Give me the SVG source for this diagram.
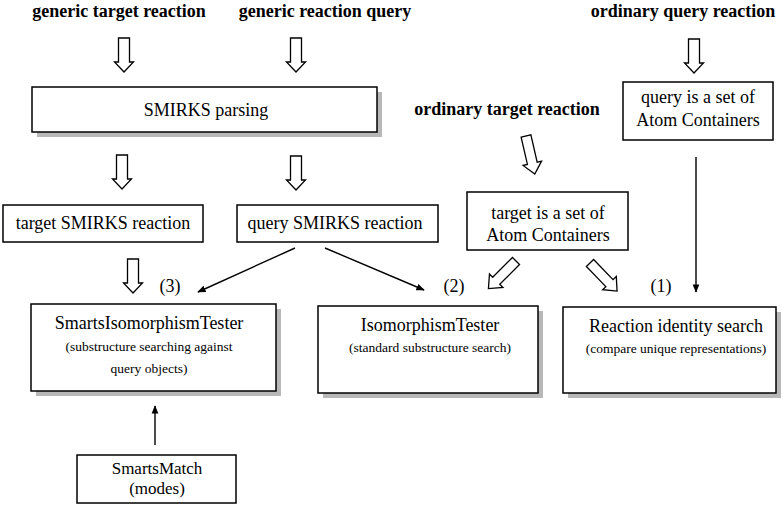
<svg xmlns="http://www.w3.org/2000/svg" width="784" height="505" viewBox="0 0 784 505">
<style>
  .title { font-family: "Liberation Serif", "Times New Roman", "DejaVu Serif", serif; font-weight: bold; font-size: 18px; fill: #000; text-anchor: middle; }
  .t { font-family: "Liberation Serif", "Times New Roman", "DejaVu Serif", serif; font-size: 18px; fill: #000; text-anchor: middle; }
  .m { font-family: "Liberation Serif", "Times New Roman", "DejaVu Serif", serif; font-size: 17px; fill: #000; text-anchor: middle; }
  .s { font-family: "Liberation Serif", "Times New Roman", "DejaVu Serif", serif; font-size: 13.5px; fill: #000; text-anchor: middle; }
  .box { fill: #fff; stroke: #000; stroke-width: 1.5; }
  .shadow { fill: #b8b8b8; stroke: none; }
  .hollow { fill: #fff; stroke: #000; stroke-width: 1.3; stroke-linejoin: miter; }
  .line { stroke: #000; stroke-width: 1.4; fill: none; marker-end: url(#ah); }
</style>
<defs>
  <marker id="ah" viewBox="0 0 10 10" refX="9" refY="5" markerWidth="6" markerHeight="6" orient="auto" markerUnits="strokeWidth">
    <path d="M0,1 L10,5 L0,9 Z" fill="#000"/>
  </marker>
  <path id="harrow" d="M-5.5,0 H5.5 V24 H9.5 L0,34 L-9.5,24 H-5.5 Z"/>
  <path id="darrow" d="M-5,0 H5 V28 H9.5 L0,39 L-9.5,28 H-5 Z"/>
</defs>
<rect width="784" height="505" fill="#fff"/>

<g id="title-generic-target"><text class="title" x="119" y="17">generic target reaction</text></g>
<g id="title-generic-query"><text class="title" x="325" y="17">generic reaction query</text></g>
<g id="title-ordinary-query"><text class="title" x="683" y="17">ordinary query reaction</text></g>
<g id="title-ordinary-target"><text class="title" x="507" y="115">ordinary target reaction</text></g>

<g id="smirks-parsing">
  <rect class="shadow" x="37" y="92" width="345" height="45"/>
  <rect class="box" x="32" y="87" width="345" height="45"/>
  <text class="t" x="206" y="116">SMIRKS parsing</text>
</g>

<g id="query-set">
  <rect class="box" x="623" y="82" width="150" height="58"/>
  <text class="t" x="698" y="103">query is a set of</text>
  <text class="t" x="698" y="126">Atom Containers</text>
</g>

<g id="target-smirks">
  <rect class="box" x="3" y="205" width="200" height="37"/>
  <text class="t" x="103" y="229">target SMIRKS reaction</text>
</g>

<g id="query-smirks">
  <rect class="box" x="237" y="205" width="201" height="37"/>
  <text class="t" x="335" y="229">query SMIRKS reaction</text>
</g>

<g id="target-set">
  <rect class="box" x="467" y="192" width="161" height="58"/>
  <text class="t" x="548" y="219">target is a set of</text>
  <text class="t" x="548" y="241">Atom Containers</text>
</g>

<g id="smarts-iso">
  <rect class="shadow" x="36" y="309" width="245" height="87"/>
  <rect class="box" x="31" y="304" width="245" height="87"/>
  <text class="t" x="149" y="329">SmartsIsomorphismTester</text>
  <text class="s" x="149" y="351">(substructure searching against</text>
  <text class="s" x="149" y="373">query objects)</text>
</g>

<g id="iso-tester">
  <rect class="shadow" x="323" y="311" width="220" height="87"/>
  <rect class="box" x="318" y="306" width="220" height="87"/>
  <text class="t" x="430" y="331">IsomorphismTester</text>
  <text class="s" x="430" y="352">(standard substructure search)</text>
</g>

<g id="reaction-identity">
  <rect class="shadow" x="568" y="312" width="213" height="86"/>
  <rect class="box" x="563" y="307" width="213" height="86"/>
  <text class="t" x="676" y="332">Reaction identity search</text>
  <text class="s" x="676" y="353">(compare unique representations)</text>
</g>

<g id="smarts-match">
  <rect class="box" x="77" y="455" width="159" height="48"/>
  <text class="m" x="157" y="474">SmartsMatch</text>
  <text class="m" x="157" y="494">(modes)</text>
</g>

<g id="labels">
  <text class="t" x="170" y="292">(3)</text>
  <text class="t" x="454" y="292">(2)</text>
  <text class="t" x="661" y="292">(1)</text>
</g>

<g id="connectors">
  <use href="#harrow" class="hollow" transform="translate(124,38)"/>
  <use href="#harrow" class="hollow" transform="translate(296,38)"/>
  <use href="#harrow" class="hollow" transform="translate(694,39)"/>
  <use href="#harrow" class="hollow" transform="translate(122,155)"/>
  <use href="#harrow" class="hollow" transform="translate(296,156)"/>
  <use href="#harrow" class="hollow" transform="translate(133,259)"/>
  <use href="#darrow" class="hollow" transform="translate(526,136) rotate(-13)"/>
  <use href="#darrow" class="hollow" transform="translate(516,261) rotate(45)"/>
  <use href="#darrow" class="hollow" transform="translate(590,263) rotate(-44)"/>
  <line class="line" x1="295" y1="248" x2="198" y2="292"/>
  <line class="line" x1="325" y1="248" x2="424" y2="290"/>
  <line class="line" x1="696" y1="157" x2="696" y2="292"/>
  <line class="line" x1="155" y1="445" x2="155" y2="406"/>
</g>
</svg>
